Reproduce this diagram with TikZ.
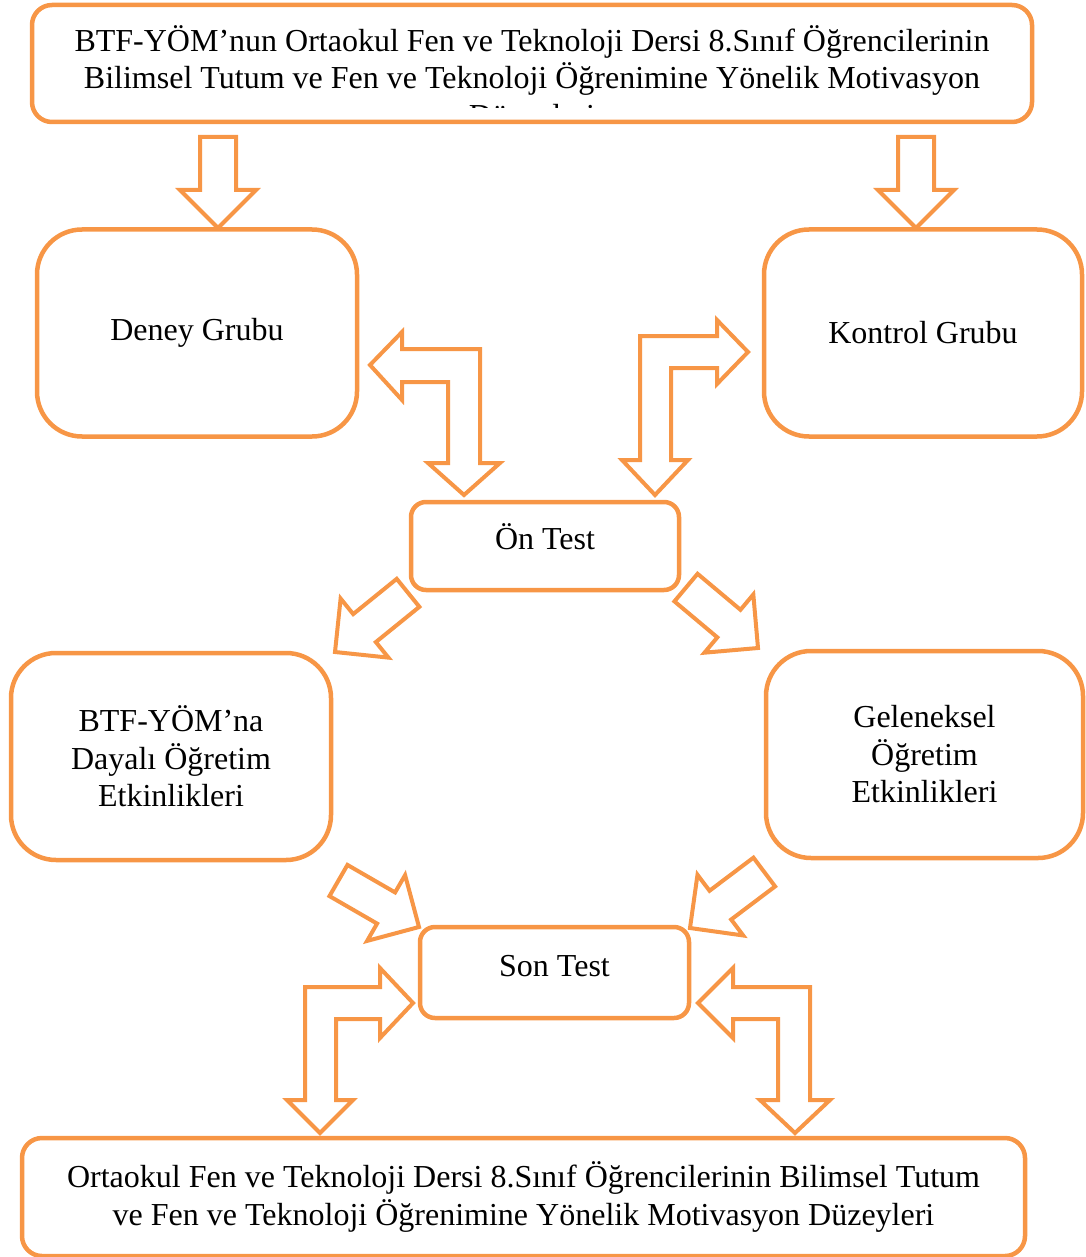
\documentclass[tikz,border=0pt]{standalone}
\usepackage{fontspec}
\setmainfont{Liberation Serif}
\definecolor{turuncu}{HTML}{F79646}
\tikzset{
  kutu/.style={draw=turuncu, line width=4.5pt, align=center, inner sep=0pt,
    font=\fontsize{32}{37.5}\selectfont},
  ok/.style={draw=turuncu, line width=4pt, line join=miter, fill=white},
}
% duz blok ok: uc, aci, boy
\newcommand{\blokok}[3]{%
  \draw[ok, shift={(#1)}, rotate=#2] (0,0) -- (-38,38) -- (-38,18) -- (-#3,18)
    -- (-#3,-18) -- (-38,-18) -- (-38,-38) -- cycle;}

\begin{document}
\begin{tikzpicture}[x=1pt, y=-1pt]
    \useasboundingbox (0,0) rectangle (1085,1257);
    % ust kutu
    \node[kutu, rounded corners=20, minimum width=1000, minimum height=117] (ust) at (532,63.5) {};
    \begin{scope}
      \clip (32,5) rectangle (1032,108);
      \node[align=center, font=\fontsize{32}{37.5}\selectfont] (usttext) at (532,79)
        {BTF-YÖM’nun Ortaokul Fen ve Teknoloji Dersi 8.Sınıf Öğrencilerinin\\
         Bilimsel Tutum ve Fen ve Teknoloji Öğrenimine Yönelik Motivasyon\\
         Düzeyleri};
    \end{scope}
    % gruplar
    \node[kutu, rounded corners=45, minimum width=320, minimum height=207] (deney) at (197,333) {Deney Grubu};
    \node[kutu, rounded corners=45, minimum width=318, minimum height=207] (kontrol) at (923,333) {Kontrol Grubu};
    % on test
    \node[kutu, rounded corners=15, minimum width=268, minimum height=88, text depth=18pt] (ontest) at (545,546) {Ön Test};
    % ogretim etkinlikleri
    \node[kutu, rounded corners=45, minimum width=320, minimum height=207] (btf) at (171,756.5)
      {BTF-YÖM’na\\Dayalı Öğretim\\Etkinlikleri};
    \node[kutu, rounded corners=45, minimum width=317, minimum height=207] (geleneksel) at (924.5,754.5)
      {Geleneksel\\Öğretim\\Etkinlikleri};
    % son test
    \node[kutu, rounded corners=15, minimum width=269, minimum height=91, text depth=14pt] (sontest) at (554.5,972.5) {Son Test};
    % alt kutu
    \node[kutu, rounded corners=20, minimum width=1003, minimum height=118] (alt) at (523.5,1197)
      {Ortaokul Fen ve Teknoloji Dersi 8.Sınıf Öğrencilerinin Bilimsel Tutum\\
       ve Fen ve Teknoloji Öğrenimine Yönelik Motivasyon Düzeyleri};

    % ust kutudan gruplara
    \blokok{218,228}{-90}{91}
    \blokok{916,228}{-90}{91}
    % gruplar <-> on test
    \draw[ok] (370,365) -- (402,332) -- (402,349) -- (480,349) -- (480,463) -- (500,463)
      -- (464,495) -- (428,463) -- (448,463) -- (448,382) -- (402,382) -- (402,400) -- cycle;
    \draw[ok] (748,352) -- (717,320) -- (717,336) -- (640,336) -- (640,460) -- (622,460)
      -- (655,495) -- (688,460) -- (671,460) -- (671,368) -- (717,368) -- (717,384) -- cycle;
    % on testten etkinliklere
    \blokok{335,652}{219}{94}
    \blokok{758,648}{-40}{94}
    % etkinliklerden son teste
    \blokok{419,927}{-30}{93}
    \blokok{690,928}{217}{93}
    % son test <-> alt kutu
    \draw[ok] (413,1003) -- (380,968) -- (380,987) -- (305,987) -- (305,1100) -- (287,1100)
      -- (320,1133) -- (353,1100) -- (336,1100) -- (336,1019) -- (380,1019) -- (380,1038) -- cycle;
    \draw[ok] (698,1003) -- (733,968) -- (733,987) -- (810,987) -- (810,1100) -- (830,1100)
      -- (795,1133) -- (760,1100) -- (778,1100) -- (778,1019) -- (733,1019) -- (733,1038) -- cycle;
\end{tikzpicture}
\end{document}
